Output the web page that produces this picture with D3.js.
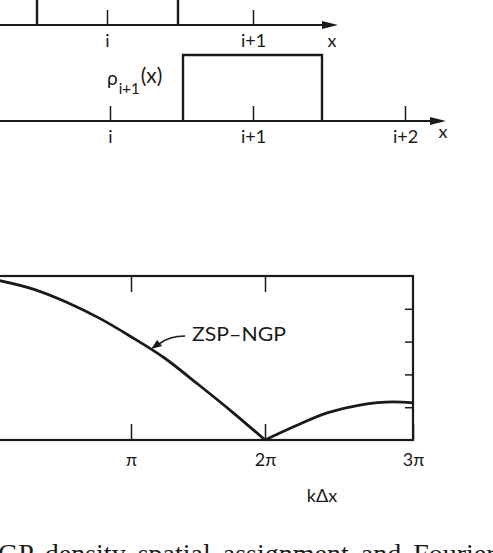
<!DOCTYPE html>
<html>
<head>
<meta charset="utf-8">
<script src="https://cdn.jsdelivr.net/npm/d3@7"></script>
<style>
  html, body { margin: 0; padding: 0; background: #fff; }
  svg { display: block; }
  .lbl { font-family: Lato, "Open Sans", sans-serif; fill: #1a1a1a; }
  .tick line { stroke: #1a1a1a; }
  .tick text { font-family: Lato, "Open Sans", sans-serif; font-size: 18px; fill: #1a1a1a; }
</style>
</head>
<body>
<div id="chart"></div>
<script>
// top strips: cell positions (units of grid spacing) and tick labels
const cellTicks1 = [0, 1];
const cellLabels1 = ["i", "i+1"];
const box1 = [-0.5, 0.5];

const cellTicks2 = [0, 1, 2];
const cellLabels2 = ["i", "i+1", "i+2"];
const box2 = [0.5, 1.5];

// bottom plot: k*dx in units of pi
const kLeft   = [0, 0.27, 0.52, 0.77, 1.0, 1.25, 1.5, 1.75, 2.0];
const valLeft = [0.975, 0.92, 0.84, 0.74, 0.63, 0.50, 0.34, 0.175, 0];
const kRight   = [2.0, 2.19, 2.42, 2.64, 2.87, 3.0];
const valRight = [0, 0.079, 0.165, 0.213, 0.232, 0.226];

const kTicks = [1, 2, 3];
const kTickLabels = ["\u03c0", "2\u03c0", "3\u03c0"];
const rightTicks = [0.2, 0.4, 0.6, 0.8];

const W = 493, H = 553;
const ink = "#1a1a1a";

const svg = d3.select("#chart").append("svg")
    .attr("width", W)
    .attr("height", H);

// --- strip helper: baseline with arrow, ticks, labels, box ---
function drawStrip(x, axisY, arrowX, ticks, labels, box, boxTop, xLabelPos) {
    const g = svg.append("g");

    g.append("line")
        .attr("x1", 0).attr("x2", arrowX - 10)
        .attr("y1", axisY).attr("y2", axisY)
        .attr("stroke", ink).attr("stroke-width", 2);

    g.append("path")
        .attr("d", `M${arrowX},${axisY} L${arrowX - 16},${axisY - 4} L${arrowX - 16},${axisY + 4} Z`)
        .attr("fill", ink);

    const axis = d3.axisBottom(x)
        .tickValues(ticks)
        .tickFormat((d, i) => labels[i])
        .tickSizeInner(-15)
        .tickSizeOuter(0)
        .tickPadding(9);

    const ag = g.append("g")
        .attr("transform", `translate(0,${axisY})`)
        .call(axis);
    ag.select(".domain").remove();
    ag.selectAll(".tick line").attr("stroke-width", 1.5);

    // the pulse
    g.append("path")
        .attr("d", `M${x(box[0])},${axisY} L${x(box[0])},${boxTop} L${x(box[1])},${boxTop} L${x(box[1])},${axisY}`)
        .attr("fill", "none")
        .attr("stroke", ink)
        .attr("stroke-width", 2.4);

    g.append("text")
        .attr("class", "lbl")
        .attr("x", xLabelPos[0]).attr("y", xLabelPos[1])
        .attr("text-anchor", "middle")
        .attr("font-size", 18)
        .text("x");
    return g;
}

const x1 = d3.scaleLinear().domain([-0.5, 0, 0.5, 1]).range([37, 107, 178, 253]);
drawStrip(x1, 25, 338, cellTicks1, cellLabels1, box1, -20, [332, 47]);

const x2 = d3.scaleLinear().domain([0, 0.5, 1, 1.5, 2]).range([110, 183, 253, 322, 405]);
drawStrip(x2, 121, 446, cellTicks2, cellLabels2, box2, 55, [443, 138]);

// rho_{i+1}(x) label
const rho = svg.append("text")
    .attr("class", "lbl")
    .attr("x", 107).attr("y", 85)
    .attr("font-size", 19);
rho.append("tspan").text("\u03c1");
rho.append("tspan").attr("font-size", 15).attr("dy", 9).attr("dx", 1).text("i+1");
rho.append("tspan").attr("font-size", 21).attr("dy", -11).attr("dx", 1).text("(x)");

// --- bottom plot ---
const xk = d3.scaleLinear().domain([0, 1, 2, 3]).range([-3, 131, 265, 413]);
const yv = d3.scaleLinear().domain([0, 1]).range([440, 276]);

const plot = svg.append("g");

plot.append("rect")
    .attr("x", xk(0)).attr("y", yv(1))
    .attr("width", xk(3) - xk(0))
    .attr("height", yv(0) - yv(1))
    .attr("fill", "none")
    .attr("stroke", ink)
    .attr("stroke-width", 2.2);

const bottomAxis = plot.append("g")
    .attr("transform", `translate(0,${yv(0)})`)
    .call(d3.axisBottom(xk)
        .tickValues(kTicks)
        .tickFormat((d, i) => kTickLabels[i])
        .tickSizeInner(-16)
        .tickSizeOuter(0)
        .tickPadding(13));
bottomAxis.select(".domain").remove();
bottomAxis.selectAll(".tick line").attr("stroke-width", 1.5);

const topAxis = plot.append("g")
    .attr("transform", `translate(0,${yv(1)})`)
    .call(d3.axisTop(xk)
        .tickValues([1, 2])
        .tickFormat("")
        .tickSizeInner(-16)
        .tickSizeOuter(0));
topAxis.select(".domain").remove();
topAxis.selectAll(".tick line").attr("stroke-width", 1.5);

const rightAxis = plot.append("g")
    .attr("transform", `translate(${xk(3)},0)`)
    .call(d3.axisRight(yv)
        .tickValues(rightTicks)
        .tickFormat("")
        .tickSizeInner(-8)
        .tickSizeOuter(0));
rightAxis.select(".domain").remove();
rightAxis.selectAll(".tick line").attr("stroke-width", 1.5);

const line = d3.line()
    .x(d => xk(d[0]))
    .y(d => yv(d[1]))
    .curve(d3.curveMonotoneX);

[[kLeft, valLeft], [kRight, valRight]].forEach(([ks, vs]) => {
    plot.append("path")
        .datum(ks.map((k, i) => [k, vs[i]]))
        .attr("d", line)
        .attr("fill", "none")
        .attr("stroke", ink)
        .attr("stroke-width", 2.8);
});

// curve label with pointer
const tipX = xk(1.15), tipY = yv(0.555);
plot.append("path")
    .attr("d", `M${tipX + 34},${tipY - 13} Q${tipX + 18},${tipY - 13} ${tipX + 8},${tipY - 5}`)
    .attr("fill", "none")
    .attr("stroke", ink)
    .attr("stroke-width", 1.6);
plot.append("path")
    .attr("d", `M${tipX},${tipY} L${tipX + 6},${tipY - 9} L${tipX + 11},${tipY - 3} Z`)
    .attr("fill", ink);

plot.append("text")
    .attr("class", "lbl")
    .attr("x", 192).attr("y", 341)
    .attr("font-size", 19)
    .attr("textLength", 94)
    .attr("lengthAdjust", "spacingAndGlyphs")
    .text("ZSP\u2013NGP");

plot.append("text")
    .attr("class", "lbl")
    .attr("x", 322).attr("y", 502)
    .attr("text-anchor", "middle")
    .attr("font-size", 18)
    .text("k\u0394x");

// caption, cut by the bottom edge as in the scan
svg.append("text")
    .attr("x", -2).attr("y", 563)
    .attr("font-family", "'Liberation Serif', 'DejaVu Serif', serif")
    .attr("font-size", 28)
    .attr("word-spacing", 5)
    .attr("fill", ink)
    .text("GP density spatial assignment and Fourier transform");
</script>
</body>
</html>
